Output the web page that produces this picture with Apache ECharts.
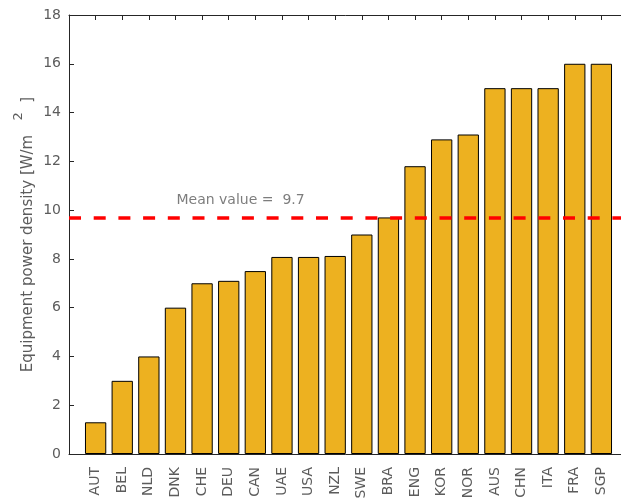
<!DOCTYPE html>
<html><head><meta charset="utf-8">
<script src="https://cdn.jsdelivr.net/npm/echarts@6/dist/echarts.min.js"></script>
<style>html,body{margin:0;padding:0;background:#fff}#c{width:621px;height:499px}</style>
</head><body><div id="c"></div>
<script>
const categories = ['AUT','BEL','NLD','DNK','CHE','DEU','CAN','UAE','USA','NZL','SWE','BRA','ENG','KOR','NOR','AUS','CHN','ITA','FRA','SGP'];
const values = [1.3, 3.0, 4.0, 6.0, 7.0, 7.1, 7.5, 8.08, 8.08, 8.12, 9.0, 9.7, 11.8, 12.9, 13.1, 15.0, 15.0, 15.0, 16.0, 16.0];
const meanValue = 9.7;
const meanLabel = 'Mean value =  9.7';
const meanLabelPos = [4, 10.4];
const yTicks = [0, 2, 4, 6, 8, 10, 12, 14, 16, 18];

const font = 'DejaVu Sans';
const txt = '#5c5c5c';
const axisCol = '#262626';
const chart = echarts.init(document.getElementById('c'), null, {renderer: 'canvas'});
const barData = values.map((v, i) => [i + 1, v]);
const xBase = {
  type: 'value', min: 0, max: categories.length + 1, interval: 1,
  axisLine: {show: true, lineStyle: {color: axisCol, width: 1}},
  axisTick: {show: true, inside: true, length: 5, lineStyle: {color: axisCol}},
  splitLine: {show: false}
};
chart.setOption({
  animation: false,
  grid: {left: 69, top: 15, width: 559, height: 439, containLabel: false, outerBoundsMode: 'none'},
  xAxis: [
    Object.assign({}, xBase, {
      position: 'bottom',
      axisLabel: {
        show: true, rotate: 90, margin: 13, fontFamily: font, fontSize: 14, color: txt,
        formatter: v => (v >= 1 && v <= categories.length) ? categories[v - 1] : '',
        showMinLabel: true, showMaxLabel: true
      }
    }),
    Object.assign({}, xBase, {position: 'top', axisLabel: {show: false}})
  ],
  yAxis: {
    type: 'value', min: yTicks[0], max: yTicks[yTicks.length - 1], interval: 2,
    axisLine: {show: true, lineStyle: {color: axisCol, width: 1}},
    axisTick: {show: true, inside: true, length: 5, lineStyle: {color: axisCol}},
    splitLine: {show: false},
    axisLabel: {fontFamily: font, fontSize: 14, color: txt, margin: 8},
    name: '{a|Equipment power density [W/m   }{s|2}{a|  ]}',
    nameLocation: 'middle', nameGap: 33, nameRotate: 90, nameMoveOverlap: false,
    nameTextStyle: {
      fontFamily: font, color: txt,
      rich: {
        a: {fontFamily: font, fontSize: 15, color: txt, lineHeight: 24, verticalAlign: 'bottom'},
        s: {fontFamily: font, fontSize: 13, color: txt, lineHeight: 24, verticalAlign: 'top'}
      }
    }
  },
  series: [
    {
      type: 'bar', xAxisIndex: 0, data: barData, barWidth: 21.3,
      itemStyle: {color: '#EDB120', borderColor: '#000', borderWidth: 1},
      markLine: {
        silent: true, symbol: 'none', z: 10,
        label: {show: false},
        lineStyle: {color: '#ff0000', width: 3.5, type: [12, 12.7], opacity: 1},
        data: [[{coord: [0, meanValue]}, {coord: [categories.length + 1, meanValue]}]]
      }
    },
    {
      type: 'scatter', xAxisIndex: 0, data: [meanLabelPos], symbolSize: 2,
      itemStyle: {color: 'rgba(0,0,0,0)'}, silent: true,
      label: {show: true, position: 'right', distance: 0, formatter: meanLabel,
        fontFamily: font, fontSize: 14, color: txt}
    }
  ]
});
</script></body></html>
